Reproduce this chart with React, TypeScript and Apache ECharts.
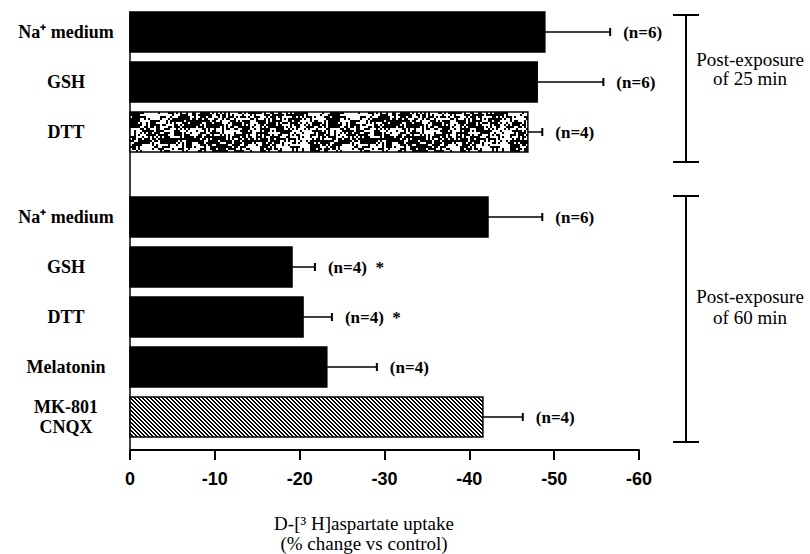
import React, { useEffect, useRef } from "react";
import * as echarts from "echarts";

// ---- data ----
const categories = ["Na⁺ medium", "GSH", "DTT", "Na⁺ medium", "GSH", "DTT", "Melatonin", "MK-801\nCNQX"];
const groupIndex = [0, 0, 0, 1, 1, 1, 1, 1];
const meanChange = [-48.9, -48.0, -46.9, -42.2, -19.1, -20.4, -23.2, -41.6];
const semChange = [7.7, 7.8, 1.7, 6.4, 2.7, 3.4, 5.9, 4.7];
const nLabels = ["(n=6)", "(n=6)", "(n=4)", "(n=6)", "(n=4)", "(n=4)", "(n=4)", "(n=4)"];
const significance = ["", "", "", "", "*", "*", "", ""];
const fillKinds = ["solid", "solid", "speckle", "solid", "solid", "solid", "solid", "hatch"];
const groupLabels = ["Post-exposure\nof 25 min", "Post-exposure\nof 60 min"];
const xAxisMin = -60;
const xAxisMax = 0;
const xAxisStep = 10;
const axisTitle = "D-[³ H]aspartate uptake\n(% change vs control)";

const GROUP_GAP = 0.7;

function hash(x: number, y: number) {
  let h = Math.imul(x, 374761393) + Math.imul(y, 668265263);
  h = Math.imul(h ^ (h >>> 13), 1274126177);
  h = h ^ (h >>> 16);
  return (h >>> 0) / 4294967296;
}

function makeHatch() {
  const w = 4, h = 4;
  const c = document.createElement("canvas");
  c.width = w; c.height = h;
  const g = c.getContext("2d")!;
  g.fillStyle = "#fff";
  g.fillRect(0, 0, w, h);
  g.fillStyle = "#000";
  for (let y = 0; y < h; y++) {
    for (let x = 0; x < w; x++) {
      const d = ((x - y) % 4 + 4) % 4;
      if (d === 0 || d === 1) g.fillRect(x, y, 1, 1);
    }
  }
  return { image: c.toDataURL(), repeat: "repeat", imageWidth: w, imageHeight: h };
}

function makeSpeckle() {
  const w = 200, h = 48;
  const c = document.createElement("canvas");
  c.width = w; c.height = h;
  const g = c.getContext("2d")!;
  g.fillStyle = "#fff";
  g.fillRect(0, 0, w, h);
  g.fillStyle = "#000";
  for (let y = 0; y < h; y += 2) {
    for (let x = 0; x < w; x += 2) {
      const coarse = hash(Math.floor(x / 10), Math.floor(y / 8) + 99);
      const fine = hash(x, y);
      if (fine < 0.15 + coarse * 0.75) g.fillRect(x, y, 2, 2);
    }
  }
  return { image: c.toDataURL(), repeat: "repeat", imageWidth: w, imageHeight: h };
}

export default function App() {
  const ref = useRef<HTMLDivElement>(null);

  useEffect(() => {
    document.body.style.margin = "0";
    const chart = echarts.init(ref.current!, null, { renderer: "svg" });
    const hatch = makeHatch();
    const speckle = makeSpeckle();

    const rows = meanChange.map((v, i) => [v, i + groupIndex[i] * GROUP_GAP, i, semChange[i]]);

    const option: any = {
      animation: false,
      backgroundColor: "#fff",
      grid: { left: 130, right: 171, top: 12, bottom: 104 },
      xAxis: {
        type: "value",
        inverse: true,
        min: xAxisMin,
        max: xAxisMax,
        interval: xAxisStep,
        axisLine: { show: true, onZero: false, lineStyle: { color: "#000", width: 2 } },
        axisTick: { show: true, length: 10, lineStyle: { color: "#000", width: 2 } },
        axisLabel: {
          color: "#000",
          fontSize: 18,
          fontWeight: "bold",
          fontFamily: "Liberation Sans",
          margin: 20,
        },
        splitLine: { show: false },
      },
      yAxis: {
        type: "value",
        inverse: true,
        min: -0.4,
        max: 8.36,
        axisLine: { show: true, onZero: false, lineStyle: { color: "#000", width: 1.5 } },
        axisTick: { show: false },
        axisLabel: { show: false },
        splitLine: { show: false },
      },
      series: [
        {
          type: "custom",
          clip: false,
          data: rows,
          renderItem: (params: any, api: any) => {
            const v = api.value(0) as number;
            const p = api.value(1) as number;
            const idx = api.value(2) as number;
            const e = api.value(3) as number;
            const base = api.coord([0, p]);
            const end = api.coord([v, p]);
            const errEnd = api.coord([v - e, p]);
            const h = api.size([0, 0.8])[1];
            const kind = fillKinds[idx];
            const fill = kind === "hatch" ? hatch : kind === "speckle" ? speckle : "#000";
            const nText = nLabels[idx] + (significance[idx] ? "  " + significance[idx] : "");
            return {
              type: "group",
              children: [
                {
                  type: "rect",
                  shape: { x: base[0], y: base[1] - h / 2, width: end[0] - base[0], height: h },
                  style: { fill, stroke: "#000", lineWidth: 1.5 },
                },
                {
                  type: "line",
                  shape: { x1: end[0], y1: end[1], x2: errEnd[0], y2: errEnd[1] },
                  style: { stroke: "#000", lineWidth: 1.5 },
                },
                {
                  type: "line",
                  shape: { x1: errEnd[0], y1: errEnd[1] - 4, x2: errEnd[0], y2: errEnd[1] + 4 },
                  style: { stroke: "#000", lineWidth: 2 },
                },
                {
                  type: "text",
                  x: errEnd[0] + 13,
                  y: errEnd[1],
                  style: {
                    text: nText,
                    fill: "#000",
                    fontSize: 17,
                    fontWeight: "bold",
                    fontFamily: "Liberation Serif",
                    align: "left",
                    verticalAlign: "middle",
                  },
                },
                {
                  type: "text",
                  x: base[0] - 64,
                  y: base[1],
                  style: {
                    text: categories[idx],
                    fill: "#000",
                    fontSize: 18,
                    fontWeight: "bold",
                    fontFamily: "Liberation Serif",
                    align: "center",
                    verticalAlign: "middle",
                    lineHeight: 20,
                  },
                },
              ],
            };
          },
        },
      ],
      graphic: [
        // top bracket
        { type: "line", shape: { x1: 686, y1: 15, x2: 686, y2: 162 }, style: { stroke: "#000", lineWidth: 2 } },
        { type: "line", shape: { x1: 673, y1: 15, x2: 699, y2: 15 }, style: { stroke: "#000", lineWidth: 2 } },
        { type: "line", shape: { x1: 673, y1: 162, x2: 699, y2: 162 }, style: { stroke: "#000", lineWidth: 2 } },
        {
          type: "text",
          x: 750,
          y: 69,
          style: {
            text: groupLabels[0],
            fill: "#000",
            fontSize: 19,
            fontFamily: "Liberation Serif",
            align: "center",
            verticalAlign: "middle",
            lineHeight: 19,
          },
        },
        // bottom bracket
        { type: "line", shape: { x1: 686, y1: 196, x2: 686, y2: 442 }, style: { stroke: "#000", lineWidth: 2 } },
        { type: "line", shape: { x1: 673, y1: 196, x2: 699, y2: 196 }, style: { stroke: "#000", lineWidth: 2 } },
        { type: "line", shape: { x1: 673, y1: 442, x2: 699, y2: 442 }, style: { stroke: "#000", lineWidth: 2 } },
        {
          type: "text",
          x: 750,
          y: 307,
          style: {
            text: groupLabels[1],
            fill: "#000",
            fontSize: 19,
            fontFamily: "Liberation Serif",
            align: "center",
            verticalAlign: "middle",
            lineHeight: 21,
          },
        },
        {
          type: "text",
          x: 364,
          y: 533,
          style: {
            text: axisTitle,
            fill: "#000",
            fontSize: 19,
            fontFamily: "Liberation Serif",
            align: "center",
            verticalAlign: "middle",
            lineHeight: 20,
          },
        },
      ],
    };

    chart.setOption(option);
    return () => chart.dispose();
  }, []);

  return <div ref={ref} style={{ width: 810, height: 554 }} />;
}
